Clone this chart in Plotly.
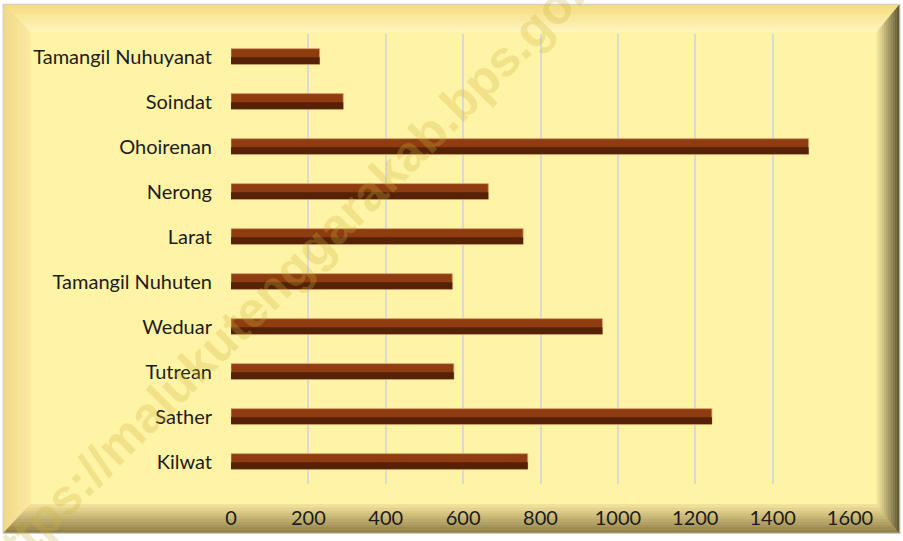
import plotly.graph_objects as go

# ---- data (bottom to top, as plotted) ----
categories = ["Kilwat", "Sather", "Tutrean", "Weduar", "Tamangil Nuhuten",
              "Larat", "Nerong", "Ohoirenan", "Soindat", "Tamangil Nuhuyanat"]
values = [767, 1243, 576, 960, 572, 755, 665, 1493, 290, 229]
x_ticks = [0, 200, 400, 600, 800, 1000, 1200, 1400, 1600]
watermark = "https://malukutenggarakab.bps.go.id"

W, H = 903, 541
L, R, T, B = 231, 850, 34, 489  # plot area in pixels


def px(x):
    return (x - L) / (R - L)


def py(y):
    return (B - y) / (B - T)


fig = go.Figure()
fig.add_trace(go.Bar(
    y=categories, x=values, orientation="h",
    width=0.35, offset=-0.175,
    marker=dict(color="#8E3C10", line=dict(color="#CFA070", width=0.8)),
    hoverinfo="skip", showlegend=False,
))
fig.add_trace(go.Bar(
    y=categories, x=values, orientation="h",
    width=0.15, offset=-0.168,
    marker=dict(color="#552207", line=dict(width=0)),
    hoverinfo="skip", showlegend=False,
))


def lerp(c1, c2, t):
    a = [int(c1[i:i + 2], 16) for i in (1, 3, 5)]
    b = [int(c2[i:i + 2], 16) for i in (1, 3, 5)]
    return "#%02x%02x%02x" % tuple(round(a[k] + (b[k] - a[k]) * t) for k in range(3))


shapes = []
# outer frame
OL, OT, OR, OB = 4, 5, 899, 538
dl, dt, dr, db = 26, 27, 22, 28
shapes.append(dict(type="rect", xref="paper", yref="paper",
                   x0=px(0), x1=px(W), y0=py(H), y1=py(0),
                   fillcolor="#FFFFFF", line=dict(width=0), layer="below"))
shapes.append(dict(type="rect", xref="paper", yref="paper",
                   x0=px(OL - 1.5), x1=px(OR + 1.5), y0=py(OB + 1.5), y1=py(OT - 1.5),
                   fillcolor="#CFCFCF", line=dict(width=0), layer="below"))
shapes.append(dict(type="rect", xref="paper", yref="paper",
                   x0=px(OL + dl), x1=px(OR - dr), y0=py(OB - db), y1=py(OT + dt),
                   fillcolor="#FFF3A5", line=dict(width=0), layer="below"))

sides = {
    "top": ("#F6DC7E", "#FFF6BE"),
    "left": ("#F2D986", "#FBEBA2"),
    "bottom": ("#8E7E46", "#F4E39A"),
    "right": ("#5E5430", "#F8E8A0"),
}
N = 10
for side, (c_out, c_in) in sides.items():
    for i in range(N):
        t0, t1 = i / N, (i + 1) / N
        col = lerp(c_out, c_in, (t0 + t1) / 2)
        p0 = (OL + dl * t0, OT + dt * t0, OR - dr * t0, OB - db * t0)
        p1 = (OL + dl * t1, OT + dt * t1, OR - dr * t1, OB - db * t1)
        if side == "top":
            pts = [(p0[0], p0[1]), (p0[2], p0[1]), (p1[2], p1[1]), (p1[0], p1[1])]
        elif side == "bottom":
            pts = [(p0[0], p0[3]), (p0[2], p0[3]), (p1[2], p1[3]), (p1[0], p1[3])]
        elif side == "left":
            pts = [(p0[0], p0[1]), (p1[0], p1[1]), (p1[0], p1[3]), (p0[0], p0[3])]
        else:
            pts = [(p0[2], p0[1]), (p1[2], p1[1]), (p1[2], p1[3]), (p0[2], p0[3])]
        path = "M " + " L ".join(f"{px(a):.5f},{py(b):.5f}" for a, b in pts) + " Z"
        shapes.append(dict(type="path", xref="paper", yref="paper", path=path,
                           fillcolor=col, line=dict(width=0.6, color=col), layer="below"))

fig.update_layout(
    width=W, height=H,
    margin=dict(l=L, r=W - R, t=T, b=H - B, pad=0),
    paper_bgcolor="#FFFFFF",
    plot_bgcolor="rgba(0,0,0,0)",
    barmode="overlay",
    font=dict(family="Lato, Carlito, sans-serif", size=20, color="#1C1C1C"),
    shapes=shapes,
    annotations=[dict(
        text=watermark, xref="paper", yref="paper",
        x=px(297), y=py(268), xanchor="center", yanchor="middle",
        textangle=-45, showarrow=False,
        font=dict(family="Liberation Sans, Arial, sans-serif", size=50,
                  color="rgba(205,180,60,0.28)", weight="bold"),
    )],
    xaxis=dict(range=[0, 1600], tickvals=x_ticks, showgrid=True,
               gridcolor="#D9D9D9", gridwidth=2, zeroline=False,
               showline=False, ticks="", ticklabelstandoff=20,
               fixedrange=True),
    yaxis=dict(showgrid=False, showline=False, ticks="",
               ticklabelstandoff=18, fixedrange=True),
)

fig.write_html("out.html",
               config={"displayModeBar": False, "staticPlot": True},
               post_script="document.body.style.margin='0px';document.body.style.overflow='hidden';")
